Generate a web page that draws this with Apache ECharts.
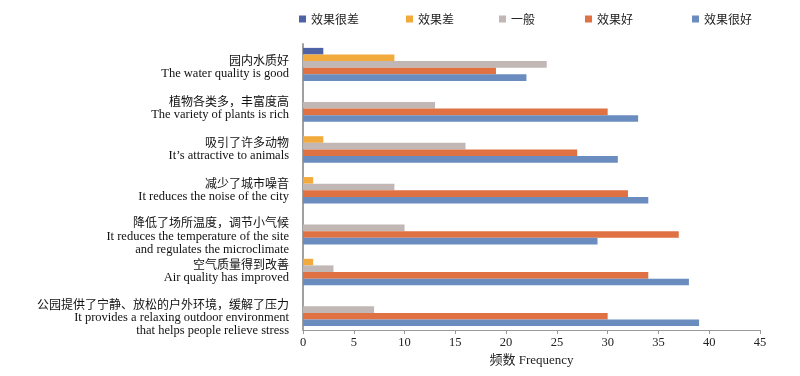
<!DOCTYPE html>
<html>
<head>
<meta charset="utf-8">
<script src="https://cdn.jsdelivr.net/npm/echarts@6/dist/echarts.min.js"></script>
<style>
  html, body { margin: 0; padding: 0; background: #fff; }
  #chart { width: 800px; height: 376px; }
</style>
</head>
<body>
<div id="chart"></div>
<script>
var cnLabels = [
    '园内水质好',
    '植物各类多，丰富度高',
    '吸引了许多动物',
    '减少了城市噪音',
    '降低了场所温度，调节小气候',
    '空气质量得到改善',
    '公园提供了宁静、放松的户外环境，缓解了压力'
];
var enLabels = [
    ['The water quality is good'],
    ['The variety of plants is rich'],
    ['It\u2019s attractive to animals'],
    ['It reduces the noise of the city'],
    ['It reduces the temperature of the site', 'and regulates the microclimate'],
    ['Air quality has improved'],
    ['It provides a relaxing outdoor environment', 'that helps people relieve stress']
];
var seriesNames = ['效果很差', '效果差', '一般', '效果好', '效果很好'];
var veryPoor = [2, 0, 0, 0, 0, 0, 0];
var poor = [9, 0, 2, 1, 0, 1, 0];
var average = [24, 13, 16, 9, 10, 3, 7];
var good = [19, 30, 27, 32, 37, 34, 30];
var veryGood = [22, 33, 31, 34, 29, 38, 39];
var xTicks = [0, 5, 10, 15, 20, 25, 30, 35, 40, 45];

var colors = ['#4e62a6', '#f3aa3c', '#c1b8b5', '#df7142', '#6a8cbf'];
var allData = [veryPoor, poor, average, good, veryGood];
var legendLeft = [294, 401, 494, 580, 687];

var categories = cnLabels.map((c, i) => i);

var chart = echarts.init(document.getElementById('chart'));

var series = seriesNames.map((name, i) => ({
    name: name,
    type: 'bar',
    data: allData[i],
    barGap: '0%',
    barCategoryGap: '19%',
    itemStyle: { color: colors[i] }
}));

// one legend per item so the spacing follows the picture
var legends = seriesNames.map((name, i) => ({
    data: [name],
    top: 8,
    left: legendLeft[i],
    icon: 'rect',
    itemWidth: 7,
    itemHeight: 7,
    itemGap: 6,
    textStyle: { fontFamily: '"Noto Sans CJK SC"', fontSize: 12, color: '#222' }
}));

var option = {
    animation: false,
    color: colors,
    legend: legends,
    grid: { left: 303, right: 40, top: 44, bottom: 46, containLabel: false },
    xAxis: {
        type: 'value',
        min: xTicks[0],
        max: xTicks[xTicks.length - 1],
        interval: 5,
        name: '频数 Frequency',
        nameLocation: 'middle',
        nameGap: 12,
        nameTextStyle: { fontFamily: '"Liberation Serif", "Noto Sans CJK SC"', fontSize: 13, color: '#222' },
        axisLine: { show: true, lineStyle: { color: '#999', width: 1 } },
        axisTick: { show: true, length: 4, lineStyle: { color: '#999' } },
        axisLabel: { fontFamily: '"Liberation Serif"', fontSize: 12.5, color: '#222', margin: 6 },
        splitLine: { show: false }
    },
    yAxis: {
        type: 'category',
        data: categories,
        inverse: true,
        axisLine: { show: true, lineStyle: { color: '#a0a0a0', width: 2 } },
        axisTick: { show: false },
        axisLabel: {
            interval: 0,
            hideOverlap: false,
            margin: 14,
            align: 'right',
            formatter: function (v) {
                var i = +v;
                var pad = enLabels[i].length > 1 ? 'padL' : 'padS';
                var s = '{' + pad + '| }\n{cn|' + cnLabels[i] + '}';
                enLabels[i].forEach(l => { s += '\n{en|' + l + '}'; });
                return s;
            },
            rich: {
                padS: { fontSize: 1, lineHeight: 5 },
                padL: { fontSize: 1, lineHeight: 16 },
                cn: { fontFamily: '"Noto Sans CJK SC"', fontSize: 12, color: '#111', lineHeight: 14, align: 'right' },
                en: { fontFamily: '"Liberation Serif"', fontSize: 12.5, color: '#111', lineHeight: 13, align: 'right' }
            }
        }
    },
    series: series
};

chart.setOption(option);
</script>
</body>
</html>
